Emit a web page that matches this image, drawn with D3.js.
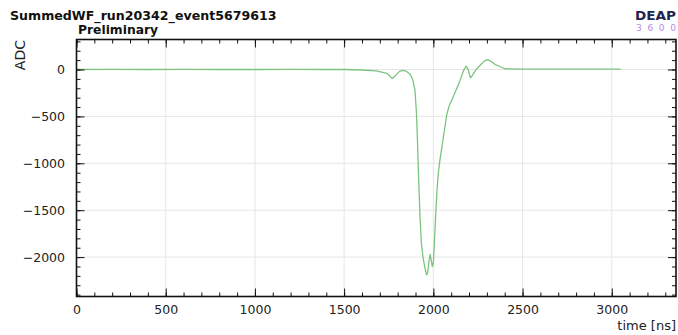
<!DOCTYPE html>
<html><head><meta charset="utf-8">
<script src="https://cdn.jsdelivr.net/npm/d3@7"></script>
<style>body{margin:0;background:#fff} svg{display:block}</style>
</head><body><svg id="c" width="678" height="335"></svg>
<script>
const timeNs = [0,200,400,600,800,1000,1200,1400,1500,1600,1680,1740,1770,1790,1810,1830,1850,1870,1885,1897,1905,1910,1915,1920,1926,1933,1942,1952,1962,1968,1975,1982,1988,1994,2000,2006,2013,2020,2028,2038,2050,2062,2075,2090,2105,2125,2145,2160,2172,2185,2195,2208,2220,2240,2260,2285,2305,2325,2345,2370,2400,2500,2600,2700,2800,2900,3000,3050];
const adcValues = [0,2,0,2,0,0,2,0,0,-5,-15,-40,-95,-60,-20,-10,-20,-50,-110,-220,-450,-700,-1000,-1300,-1600,-1850,-2000,-2110,-2190,-2170,-2050,-1970,-2030,-2100,-2060,-1850,-1550,-1300,-1100,-950,-800,-650,-480,-380,-320,-230,-140,-60,0,35,0,-90,-60,0,40,90,105,85,55,35,8,5,5,5,5,5,5,5];
const xTickValues = [0,500,1000,1500,2000,2500,3000];
const yTickValues = [0,-500,-1000,-1500,-2000];
const xMinorValues = d3.range(0, 3360, 100);
const yMinorValues = d3.range(-2400, 320, 100);
const titleText = "SummedWF_run20342_event5679613";
const subtitleText = "Preliminary";
const yLabel = "ADC";
const xLabel = "time [ns]";

const svg = d3.select("#c");
const font = "'DejaVu Sans', sans-serif";
const L = 76.5, R = 676, T = 39.5, B = 296.5;
const x = d3.scaleLinear().domain([0, 3360]).range([L, R]);
const y = d3.scaleLinear().domain([-2420, 320]).range([B, T]);

// grid
const grid = svg.append("g").attr("stroke", "#e6e6e6").attr("stroke-width", 1);
xTickValues.filter(v => v > 0).forEach(v => grid.append("line").attr("x1", x(v)).attr("x2", x(v)).attr("y1", T).attr("y2", B));
yTickValues.forEach(v => grid.append("line").attr("x1", L).attr("x2", R).attr("y1", y(v)).attr("y2", y(v)));

// line
svg.append("defs").append("clipPath").attr("id", "clip").append("rect").attr("x", L).attr("y", T).attr("width", R - L).attr("height", B - T);
const data = timeNs.map((t, i) => [t, adcValues[i]]);
svg.append("path").datum(data)
  .attr("clip-path", "url(#clip)")
  .attr("fill", "none").attr("stroke", "#7cc47e").attr("stroke-width", 1.3).attr("stroke-linejoin", "round")
  .attr("d", d3.line().x(d => x(d[0])).y(d => y(d[1])));

function styleAxis(g) {
  g.select(".domain").remove();
  g.selectAll("line").attr("stroke", "#111").attr("stroke-width", 1);
  g.selectAll("text").attr("font-family", font).attr("font-size", 12.5).attr("fill", "#222");
}
// bottom
svg.append("g").attr("transform", `translate(0,${B})`)
  .call(d3.axisBottom(x).tickValues(xMinorValues).tickFormat("").tickSize(-4).tickSizeOuter(0)).call(styleAxis);
svg.append("g").attr("transform", `translate(0,${B})`)
  .call(d3.axisBottom(x).tickValues(xTickValues).tickFormat(d3.format("d")).tickSize(-8).tickSizeOuter(0).tickPadding(9)).call(styleAxis);
// top
svg.append("g").attr("transform", `translate(0,${T})`)
  .call(d3.axisTop(x).tickValues(xMinorValues).tickFormat("").tickSize(-4).tickSizeOuter(0)).call(styleAxis);
svg.append("g").attr("transform", `translate(0,${T})`)
  .call(d3.axisTop(x).tickValues(xTickValues).tickFormat("").tickSize(-8).tickSizeOuter(0)).call(styleAxis);
// left
svg.append("g").attr("transform", `translate(${L},0)`)
  .call(d3.axisLeft(y).tickValues(yMinorValues).tickFormat("").tickSize(-4).tickSizeOuter(0)).call(styleAxis);
svg.append("g").attr("transform", `translate(${L},0)`)
  .call(d3.axisLeft(y).tickValues(yTickValues).tickFormat(d3.format("d")).tickSize(-8).tickSizeOuter(0).tickPadding(11.5)).call(styleAxis);
// right
svg.append("g").attr("transform", `translate(${R},0)`)
  .call(d3.axisRight(y).tickValues(yMinorValues).tickFormat("").tickSize(-4).tickSizeOuter(0)).call(styleAxis);
svg.append("g").attr("transform", `translate(${R},0)`)
  .call(d3.axisRight(y).tickValues(yTickValues).tickFormat("").tickSize(-8).tickSizeOuter(0)).call(styleAxis);

// frame
svg.append("rect").attr("x", L).attr("y", T).attr("width", R - L).attr("height", B - T)
  .attr("fill", "none").attr("stroke", "#111").attr("stroke-width", 1.6);

// texts
svg.append("text").attr("x", 10).attr("y", 19.5).attr("font-family", font).attr("font-weight", "bold")
  .attr("font-size", 12.6).attr("fill", "#111").text(titleText);
svg.append("text").attr("x", 78).attr("y", 33.5).attr("font-family", font).attr("font-weight", "bold")
  .attr("font-size", 12.3).attr("fill", "#111").text(subtitleText);
svg.append("text").attr("transform", "translate(25,40) rotate(-90)").attr("text-anchor", "end")
  .attr("font-family", font).attr("font-size", 14).attr("fill", "#222").text(yLabel);
svg.append("text").attr("x", 676).attr("y", 330).attr("text-anchor", "end")
  .attr("font-family", font).attr("font-size", 13).attr("fill", "#222").text(xLabel);
svg.append("text").attr("x", 635).attr("y", 19.8).attr("textLength", 41).attr("lengthAdjust", "spacingAndGlyphs")
  .attr("font-family", font).attr("font-weight", "bold").attr("font-size", 12).attr("fill", "#23234f").text("DEAP");
svg.append("text").attr("x", 636).attr("y", 31).attr("textLength", 40).attr("lengthAdjust", "spacing")
  .attr("font-family", font).attr("font-size", 9).attr("fill", "#b58be6").text("3600");
</script></body></html>
